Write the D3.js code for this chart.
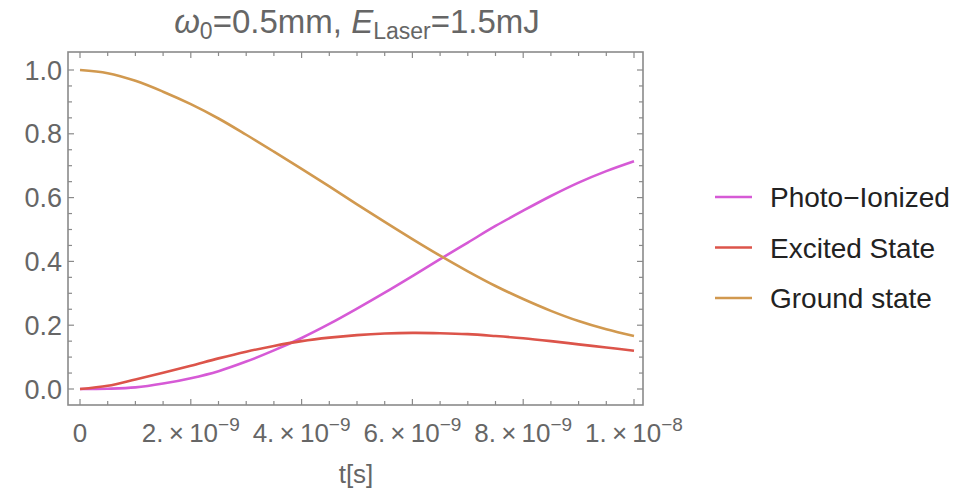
<!DOCTYPE html>
<html>
<head>
<meta charset="utf-8">
<script src="https://cdnjs.cloudflare.com/ajax/libs/d3/7.8.5/d3.min.js"></script>
<style>
  body { margin: 0; background: #fff; }
  svg { font-family: "Liberation Sans", Arial, sans-serif; }
</style>
</head>
<body>
<div id="chart-area"></div>
<script>
// time in units of 1e-9 s
const times = [0, 0.5, 1, 1.5, 2, 2.5, 3, 3.5, 4, 4.5, 5, 5.5, 6, 6.5, 7, 7.5, 8, 8.5, 9, 9.5, 10];
const photoIonized = [0, 0.001, 0.005, 0.017, 0.034, 0.056, 0.086, 0.121, 0.160, 0.204, 0.252, 0.302, 0.354, 0.407, 0.459, 0.511, 0.559, 0.605, 0.647, 0.683, 0.714];
const excitedState = [0, 0.010, 0.030, 0.051, 0.073, 0.096, 0.117, 0.135, 0.150, 0.161, 0.169, 0.174, 0.176, 0.175, 0.172, 0.166, 0.159, 0.150, 0.140, 0.130, 0.120];
const groundState = [1, 0.990, 0.966, 0.932, 0.893, 0.848, 0.797, 0.744, 0.690, 0.635, 0.579, 0.524, 0.470, 0.418, 0.369, 0.323, 0.282, 0.245, 0.213, 0.187, 0.166];

const seriesNames = ['Photo\u2212Ionized', 'Excited State', 'Ground state'];
const seriesColors = ['#d65ad6', '#dc544a', '#d1994f'];
const seriesValues = [photoIonized, excitedState, groundState];

const xTickValues = [0, 2, 4, 6, 8, 10];
const xTickMantissa = ['0', '2.', '4.', '6.', '8.', '1.'];
const xTickExp = ['', '\u22129', '\u22129', '\u22129', '\u22129', '\u22128'];
const yTickValues = [0, 0.2, 0.4, 0.6, 0.8, 1.0];

const frame = { left: 68, right: 643, top: 52, bottom: 405 };

const svg = d3.select('#chart-area')
  .append('svg')
  .attr('width', 974)
  .attr('height', 492);

const x = d3.scaleLinear()
  .domain([0, 10])
  .range([80, 634]);

const y = d3.scaleLinear()
  .domain([0, 1])
  .range([389, 70]);

const frameColor = '#8a8a8a';
const labelColor = '#666';

// ticks (inward, on all four sides)
const xMinor = d3.range(0, 10.01, 0.5);
const yMinor = d3.range(-0.05, 1.06, 0.05).filter(v => v >= -0.04 && v <= 1.04);
const ticks = svg.append('g').attr('stroke', frameColor).attr('stroke-width', 1.2);

xMinor.forEach((v) => {
  const major = Math.abs(v / 2 - Math.round(v / 2)) < 1e-6;
  const len = major ? 6 : 4;
  ticks.append('line')
    .attr('x1', x(v)).attr('x2', x(v))
    .attr('y1', frame.bottom).attr('y2', frame.bottom - len);
  ticks.append('line')
    .attr('x1', x(v)).attr('x2', x(v))
    .attr('y1', frame.top).attr('y2', frame.top + len);
});

yMinor.forEach((v) => {
  const major = Math.abs(v / 0.2 - Math.round(v / 0.2)) < 1e-6;
  const len = major ? 6 : 4;
  ticks.append('line')
    .attr('x1', frame.left).attr('x2', frame.left + len)
    .attr('y1', y(v)).attr('y2', y(v));
  ticks.append('line')
    .attr('x1', frame.right).attr('x2', frame.right - len)
    .attr('y1', y(v)).attr('y2', y(v));
});

// frame
svg.append('rect')
  .attr('x', frame.left)
  .attr('y', frame.top)
  .attr('width', frame.right - frame.left)
  .attr('height', frame.bottom - frame.top)
  .attr('fill', 'none')
  .attr('stroke', frameColor)
  .attr('stroke-width', 1.6);

// y tick labels
svg.append('g').selectAll('text')
  .data(yTickValues)
  .enter()
  .append('text')
  .attr('x', 62)
  .attr('y', d => y(d) + 9.5)
  .attr('text-anchor', 'end')
  .attr('font-size', '27px')
  .attr('fill', labelColor)
  .text(d => d.toFixed(1));

// x tick labels
const xLabels = svg.append('g').selectAll('text')
  .data(xTickValues)
  .enter()
  .append('text')
  .attr('x', d => x(d))
  .attr('y', 442)
  .attr('text-anchor', 'middle')
  .attr('font-size', '26px')
  .attr('fill', labelColor);

xLabels.append('tspan')
  .text((d, i) => i === 0 ? xTickMantissa[i] : xTickMantissa[i] + '\u2009\u00d7\u200910');
xLabels.append('tspan')
  .attr('dy', -11)
  .attr('font-size', '19px')
  .text((d, i) => xTickExp[i]);

// axis label
svg.append('text')
  .attr('x', 356)
  .attr('y', 483)
  .attr('text-anchor', 'middle')
  .attr('font-size', '26px')
  .attr('fill', labelColor)
  .text('t[s]');

// title
const title = svg.append('text')
  .attr('x', 357)
  .attr('y', 33)
  .attr('text-anchor', 'middle')
  .attr('font-size', '33px')
  .attr('fill', labelColor);
title.append('tspan').attr('font-style', 'italic').text('\u03c9');
title.append('tspan').attr('font-size', '23px').attr('dy', 6).text('0');
title.append('tspan').attr('dy', -6).text('=0.5mm, ');
title.append('tspan').attr('font-style', 'italic').text('E');
title.append('tspan').attr('font-size', '23px').attr('dy', 6).text('Laser');
title.append('tspan').attr('dy', -6).text('=1.5mJ');

// curves
const line = d3.line()
  .x((d, i) => x(times[i]))
  .y(d => y(d))
  .curve(d3.curveCatmullRom.alpha(0.5));

seriesValues.forEach((values, k) => {
  svg.append('path')
    .datum(values)
    .attr('d', line)
    .attr('fill', 'none')
    .attr('stroke', seriesColors[k])
    .attr('stroke-width', 2.6)
    .attr('stroke-linejoin', 'round');
});

// legend
const legend = svg.append('g');
seriesNames.forEach((name, i) => {
  const ly = 197 + i * 50.5;
  legend.append('line')
    .attr('x1', 715).attr('x2', 752)
    .attr('y1', ly).attr('y2', ly)
    .attr('stroke', seriesColors[i])
    .attr('stroke-width', 2.6);
  legend.append('text')
    .attr('x', 770)
    .attr('y', ly + 10)
    .attr('font-size', '28px')
    .attr('fill', '#222')
    .text(name);
});
</script>
</body>
</html>
